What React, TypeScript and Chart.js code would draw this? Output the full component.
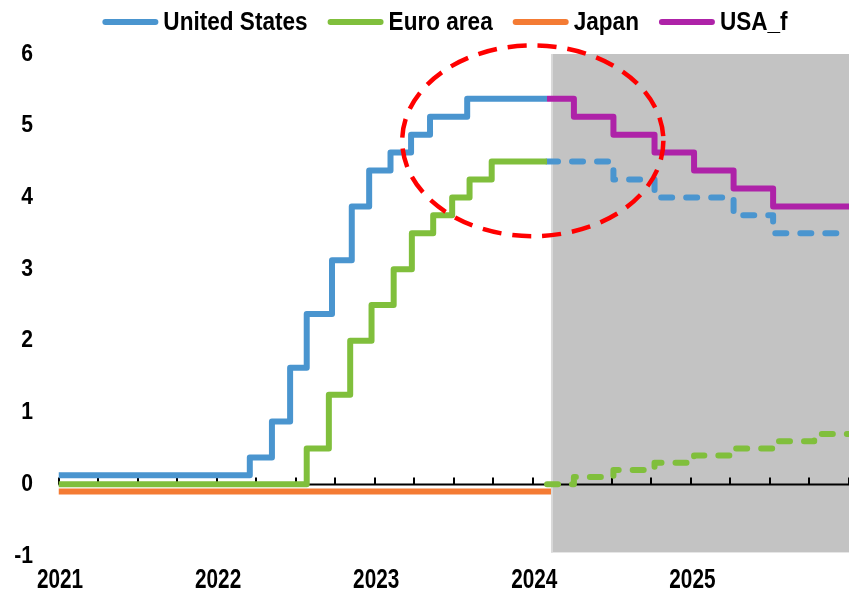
import { useEffect, useRef } from 'react';
import { Chart, registerables } from 'chart.js';

Chart.register(...registerables);

// Policy rates (%), x as decimal year; each point marks the date a new level takes effect
const usDates = [2021.0, 2022.21, 2022.35, 2022.465, 2022.57, 2022.73, 2022.855, 2022.965, 2023.1, 2023.23, 2023.35, 2023.585, 2024.09];
const usRates = [0.125, 0.375, 0.875, 1.625, 2.375, 3.125, 3.875, 4.375, 4.625, 4.875, 5.125, 5.375, 5.375];

const euroDates = [2021.0, 2022.57, 2022.71, 2022.845, 2022.98, 2023.12, 2023.235, 2023.37, 2023.49, 2023.6, 2023.74, 2024.09];
const euroRates = [0, 0.5, 1.25, 2.0, 2.5, 3.0, 3.5, 3.75, 4.0, 4.25, 4.5, 4.5];

const japanDates = [2021.0, 2024.115];
const japanRates = [-0.1, -0.1];

// Projections
const forecastDates = [2024.09, 2024.26, 2024.51, 2024.77, 2025.02, 2025.27, 2025.52, 2025.78, 2026.0];
const usaForecast = [5.375, 5.125, 4.875, 4.625, 4.375, 4.125, 3.875, 3.875, 3.875];
const euroForecast = [4.5, 4.5, 4.25, 4.0, 4.0, 3.75, 3.5, 3.5, 3.5];
const japanForecast = [0, 0.1, 0.2, 0.3, 0.4, 0.5, 0.6, 0.7, 0.7];

const yearTicks = [2021, 2022, 2023, 2024, 2025];
const rateTicks = [-1, 0, 1, 2, 3, 4, 5, 6];
const legendNames = ['United States', 'Euro area', 'Japan', 'USA_f'];

const X_MIN = 2021;
const X_MAX = 2026;
const Y_MIN = -1;
const Y_MAX = 6;
const FORECAST_START = 2024.115;
const SHADE_BOTTOM = -0.95;

// Highlight ring around the peak of the cycle (data units)
const RING_CENTER_X = 2024.0;
const RING_CENTER_Y = 4.79;
const RING_RADIUS_X = 0.826;
const RING_RADIUS_Y = 1.33;

const BLUE = '#4a95cf';
const GREEN = '#80bf3c';
const ORANGE = '#f47b34';
const PURPLE = '#ae22a8';
const RED = '#ff0000';
const SHADE = '#c3c3c3';

const FONT = "'Liberation Sans', Arial, sans-serif";

const pts = (xs: number[], ys: number[]) => xs.map((x, i) => ({ x, y: ys[i] }));

// Condensed bold text: regular bold face squeezed horizontally
function narrowText(ctx: CanvasRenderingContext2D, text: string, x: number, y: number, size: number, squeeze: number, align: CanvasTextAlign) {
  ctx.save();
  ctx.font = `bold ${size}px ${FONT}`;
  ctx.textAlign = align;
  ctx.textBaseline = 'middle';
  ctx.fillStyle = '#000';
  ctx.translate(x, y);
  ctx.scale(squeeze, 1);
  ctx.fillText(text, 0, 0);
  ctx.restore();
}

const backdropPlugin = {
  id: 'backdrop',
  beforeDatasetsDraw(chart: any) {
    const { ctx, scales } = chart;
    const x = scales.x;
    const y = scales.y;
    const x0 = x.getPixelForValue(FORECAST_START);
    const x1 = x.getPixelForValue(X_MAX);
    const y0 = y.getPixelForValue(Y_MAX);
    const y1 = y.getPixelForValue(SHADE_BOTTOM);
    ctx.save();
    ctx.fillStyle = SHADE;
    ctx.fillRect(x0, y0, x1 - x0, y1 - y0);
    ctx.fillStyle = '#d9d9d9';
    ctx.fillRect(x0, y0, 2, y1 - y0);

    // zero line with quarterly tick marks
    const yz = Math.round(y.getPixelForValue(0)) + 0.5;
    ctx.strokeStyle = '#000';
    ctx.lineWidth = 2;
    ctx.beginPath();
    ctx.moveTo(x.left, yz);
    ctx.lineTo(x.right, yz);
    for (let q = X_MIN; q <= X_MAX + 1e-9; q += 0.25) {
      const px = Math.round(x.getPixelForValue(q));
      ctx.moveTo(px, yz);
      ctx.lineTo(px, yz - 7);
    }
    ctx.stroke();
    ctx.restore();
  },
};

const axisLabelPlugin = {
  id: 'axisLabels',
  afterDraw(chart: any) {
    const { ctx, scales } = chart;
    const x = scales.x;
    const y = scales.y;
    rateTicks.forEach((v) => {
      narrowText(ctx, String(v), 33, y.getPixelForValue(v), 24, 0.88, 'right');
    });
    yearTicks.forEach((v) => {
      narrowText(ctx, String(v), x.getPixelForValue(v) + 1.5, 581, 27, 0.77, 'center');
    });
  },
};

const ringPlugin = {
  id: 'ring',
  afterDatasetsDraw(chart: any) {
    const { ctx, scales } = chart;
    const x = scales.x;
    const y = scales.y;
    const cx = x.getPixelForValue(RING_CENTER_X);
    const cy = y.getPixelForValue(RING_CENTER_Y);
    const rx = x.getPixelForValue(RING_CENTER_X + RING_RADIUS_X) - cx;
    const ry = cy - y.getPixelForValue(RING_CENTER_Y + RING_RADIUS_Y);
    ctx.save();
    ctx.strokeStyle = RED;
    ctx.lineWidth = 4.5;
    ctx.setLineDash([19, 11]);
    ctx.beginPath();
    ctx.ellipse(cx, cy, rx, ry, 0, 0, Math.PI * 2);
    ctx.stroke();
    ctx.restore();
  },
};

const legendPlugin = {
  id: 'topLegend',
  afterDraw(chart: any) {
    const { ctx } = chart;
    const colors = [BLUE, GREEN, ORANGE, PURPLE];
    const lineLen = 56;
    const textGap = 5;
    const itemGap = 20;
    const size = 25.5;
    const squeeze = 0.885;
    ctx.save();
    ctx.font = `bold ${size}px ${FONT}`;
    const widths = legendNames.map((n) => ctx.measureText(n).width * squeeze);
    ctx.restore();
    const total = widths.reduce((s, w) => s + lineLen + textGap + w, 0) + itemGap * (legendNames.length - 1);
    let px = 445 - total / 2;
    const py = 22;
    legendNames.forEach((name, i) => {
      ctx.save();
      ctx.strokeStyle = colors[i];
      ctx.lineWidth = 6;
      ctx.lineCap = 'round';
      ctx.beginPath();
      ctx.moveTo(px + 3, py);
      ctx.lineTo(px + lineLen - 3, py);
      ctx.stroke();
      ctx.restore();
      narrowText(ctx, name, px + lineLen + textGap, py + 1, size, squeeze, 'left');
      px += lineLen + textGap + widths[i] + itemGap;
    });
  },
};

export default function App() {
  const canvasRef = useRef<HTMLCanvasElement | null>(null);

  useEffect(() => {
    const canvas = canvasRef.current;
    if (!canvas) return;
    const base = { pointRadius: 0, pointHoverRadius: 0, borderWidth: 6, stepped: true, fill: false, borderJoinStyle: 'round' };
    const chart = new Chart(canvas, {
      type: 'line',
      data: {
        datasets: [
          { ...base, label: legendNames[0], data: pts(usDates, usRates), borderColor: BLUE },
          { ...base, label: legendNames[1], data: pts(euroDates, euroRates), borderColor: GREEN },
          { ...base, label: legendNames[2], data: pts(japanDates, japanRates), borderColor: ORANGE },
          { ...base, label: legendNames[3], data: pts(forecastDates, usaForecast), borderColor: PURPLE },
          { ...base, label: 'Euro area projection', data: pts(forecastDates, euroForecast), borderColor: BLUE, borderDash: [11, 14], borderCapStyle: 'round' },
          { ...base, label: 'Japan projection', data: pts(forecastDates, japanForecast), borderColor: GREEN, borderDash: [11, 14], borderCapStyle: 'round' },
        ] as any,
      },
      options: {
        responsive: false,
        animation: false,
        layout: { padding: { top: 54, left: 0, right: 0, bottom: 0 } },
        plugins: { legend: { display: false }, tooltip: { enabled: false } },
        scales: {
          x: {
            type: 'linear',
            min: X_MIN,
            max: X_MAX,
            grid: { display: false, drawTicks: false },
            border: { display: false },
            ticks: { display: false },
            afterBuildTicks: (scale: any) => {
              scale.ticks = yearTicks.map((v) => ({ value: v }));
            },
            afterFit: (scale: any) => {
              scale.height = 38;
              scale.paddingLeft = 0;
              scale.paddingRight = 0;
            },
          },
          y: {
            min: Y_MIN,
            max: Y_MAX,
            grid: { display: false, drawTicks: false },
            border: { display: false },
            ticks: { display: false, stepSize: 1 },
            afterFit: (scale: any) => {
              scale.width = 58.5;
            },
          },
        },
      } as any,
      plugins: [backdropPlugin, ringPlugin, legendPlugin, axisLabelPlugin],
    });
    return () => chart.destroy();
  }, []);

  return (
    <div style={{ position: 'absolute', left: 0, top: 0, width: 849, height: 594, background: '#fff' }}>
      <canvas ref={canvasRef} width={849} height={594} />
    </div>
  );
}
